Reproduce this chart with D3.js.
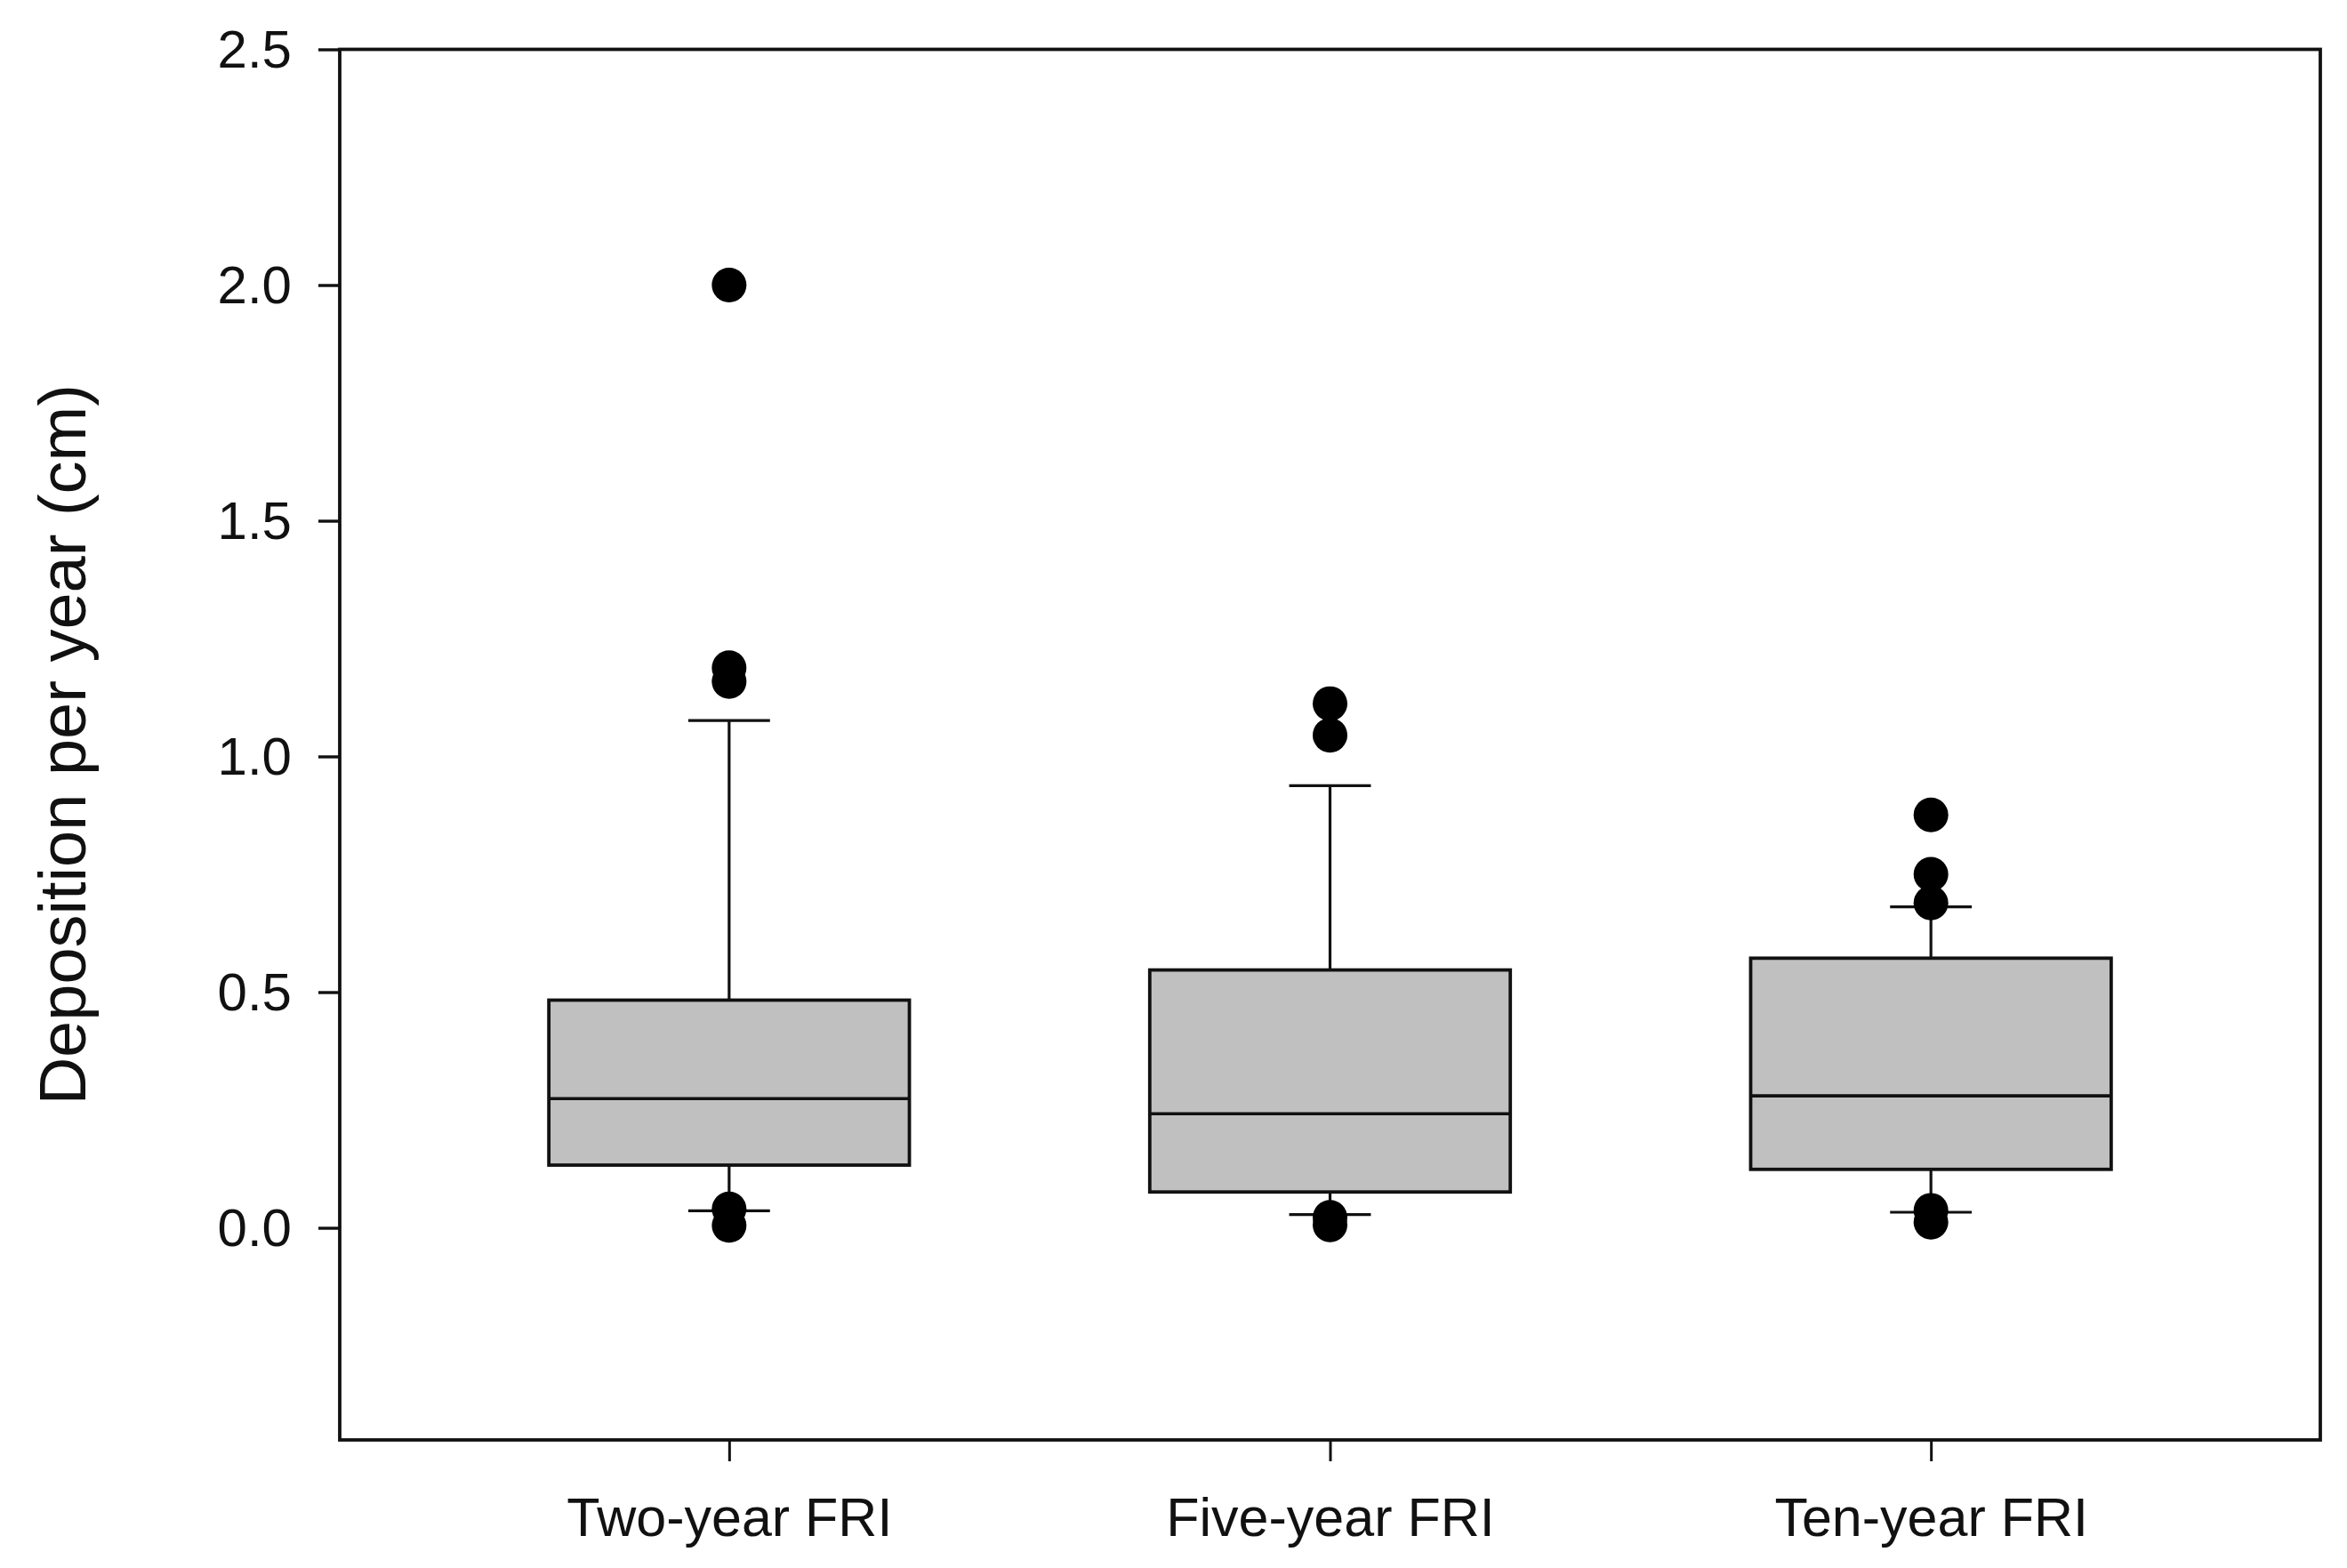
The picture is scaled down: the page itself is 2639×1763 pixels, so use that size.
<!DOCTYPE html>
<html>
<head>
<meta charset="utf-8">
<script src="https://cdn.jsdelivr.net/npm/d3@7"></script>
<style>
  html, body { margin: 0; padding: 0; background: #ffffff; }
  svg { display: block; }
</style>
</head>
<body>
<script>
// ---- Data ----
const categories   = ["Two-year FRI", "Five-year FRI", "Ten-year FRI"];
const q1Values     = [0.133, 0.076, 0.124];
const medianValues = [0.274, 0.242, 0.280];
const q3Values     = [0.483, 0.547, 0.572];
const whiskerLow   = [0.036, 0.028, 0.033];
const whiskerHigh  = [1.076, 0.938, 0.681];
const outlierTwo   = [2.0, 1.188, 1.159, 0.040, 0.005];
const outlierFive  = [1.112, 1.045, 0.022, 0.006];
const outlierTen   = [0.876, 0.750, 0.689, 0.037, 0.012];
const yTicks       = [0.0, 0.5, 1.0, 1.5, 2.0, 2.5];
const yLabel       = "Deposition per year (cm)";

const outliers = [outlierTwo, outlierFive, outlierTen];

// ---- Layout ----
const W = 2639, H = 1763;
const mLeft = 382, mRight = 2609, mTop = 55.5, mBottom = 1619;
const FONT = "'Liberation Sans', Arial, Helvetica, sans-serif";

const svg = d3.select("body").append("svg")
  .attr("width", W).attr("height", H);

const x = d3.scalePoint().domain(categories).range([mLeft, mRight]).padding(0.648);
const y = d3.scaleLinear().domain([-0.45, 2.5]).range([mBottom, mTop]);

const step = x.step();
const boxW = step * 0.6;
const capW = step * 0.136;

// Y axis
const yAxis = svg.append("g")
  .attr("transform", `translate(${mLeft},0)`)
  .call(d3.axisLeft(y).tickValues(yTicks).tickFormat(d3.format(".1f"))
        .tickSize(24).tickPadding(30));
yAxis.select(".domain").remove();
yAxis.selectAll(".tick line").attr("stroke", "#111").attr("stroke-width", 3.4);
yAxis.selectAll(".tick text")
  .attr("font-family", FONT).attr("font-size", 60).attr("fill", "#111")
  .attr("dy", "0.34em");

// X axis
const xAxis = svg.append("g")
  .attr("transform", `translate(0,${mBottom})`)
  .call(d3.axisBottom(x).tickSize(24).tickPadding(41));
xAxis.select(".domain").remove();
xAxis.selectAll(".tick line").attr("stroke", "#111").attr("stroke-width", 3);
xAxis.selectAll(".tick text")
  .attr("font-family", FONT).attr("font-size", 61).attr("fill", "#111");

// Frame
svg.append("rect")
  .attr("x", mLeft).attr("y", mTop)
  .attr("width", mRight - mLeft).attr("height", mBottom - mTop)
  .attr("fill", "none").attr("stroke", "#111").attr("stroke-width", 3.8);

// Boxes
const data = categories.map((c, i) => ({
  c, q1: q1Values[i], med: medianValues[i], q3: q3Values[i],
  lo: whiskerLow[i], hi: whiskerHigh[i], out: outliers[i]
}));

const g = svg.append("g");
const groups = g.selectAll("g.box").data(data).join("g").attr("class", "box");

// whiskers
groups.append("line")
  .attr("x1", d => x(d.c)).attr("x2", d => x(d.c))
  .attr("y1", d => y(d.q3)).attr("y2", d => y(d.hi))
  .attr("stroke", "#111").attr("stroke-width", 3.2);
groups.append("line")
  .attr("x1", d => x(d.c)).attr("x2", d => x(d.c))
  .attr("y1", d => y(d.q1)).attr("y2", d => y(d.lo))
  .attr("stroke", "#111").attr("stroke-width", 3.2);
// caps
groups.append("line")
  .attr("x1", d => x(d.c) - capW / 2).attr("x2", d => x(d.c) + capW / 2)
  .attr("y1", d => y(d.hi)).attr("y2", d => y(d.hi))
  .attr("stroke", "#111").attr("stroke-width", 3.2);
groups.append("line")
  .attr("x1", d => x(d.c) - capW / 2).attr("x2", d => x(d.c) + capW / 2)
  .attr("y1", d => y(d.lo)).attr("y2", d => y(d.lo))
  .attr("stroke", "#111").attr("stroke-width", 3.2);
// box
groups.append("rect")
  .attr("x", d => x(d.c) - boxW / 2).attr("width", boxW)
  .attr("y", d => y(d.q3)).attr("height", d => y(d.q1) - y(d.q3))
  .attr("fill", "#c0c0c0").attr("stroke", "#111").attr("stroke-width", 3.8);
// median
groups.append("line")
  .attr("x1", d => x(d.c) - boxW / 2).attr("x2", d => x(d.c) + boxW / 2)
  .attr("y1", d => y(d.med)).attr("y2", d => y(d.med))
  .attr("stroke", "#111").attr("stroke-width", 3.6);
// outliers
groups.selectAll("circle").data(d => d.out.map(v => ({ c: d.c, v })))
  .join("circle")
  .attr("cx", d => x(d.c)).attr("cy", d => y(d.v)).attr("r", 19.5)
  .attr("fill", "#000");

// Y label
svg.append("text")
  .attr("transform", `translate(96,${(mTop + mBottom) / 2}) rotate(-90)`)
  .attr("text-anchor", "middle")
  .attr("font-family", FONT).attr("font-size", 74).attr("fill", "#111")
  .text(yLabel);
</script>
</body>
</html>
